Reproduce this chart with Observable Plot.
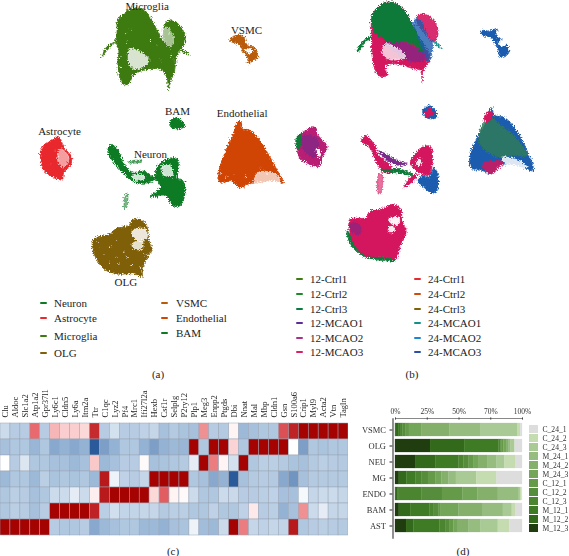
<!DOCTYPE html>
<html><head><meta charset="utf-8">
<script src="https://cdn.jsdelivr.net/npm/d3@7"></script>
<script src="https://cdn.jsdelivr.net/npm/@observablehq/plot@0.6"></script>
<style>
html,body{margin:0;padding:0;background:#fff;width:569px;height:556px;overflow:hidden;font-family:"Liberation Serif",serif;color:#222}
#page{position:relative;width:569px;height:556px}
#page svg{position:absolute;display:block}
.t{position:absolute;font-size:11px;line-height:12px;white-space:nowrap}
.k{position:absolute;height:1.6px;width:7px;border-radius:1px}
#scatter{filter:url(#rough)}
#heat,#bars,#swatches{filter:blur(.3px)}
</style></head><body>
<svg width="0" height="0" style="position:absolute"><filter id="rough" x="-2%" y="-2%" width="104%" height="104%" color-interpolation-filters="sRGB"><feTurbulence type="fractalNoise" baseFrequency=".75" numOctaves="2" seed="4" result="n"/><feDisplacementMap in="SourceGraphic" in2="n" scale="5.5" xChannelSelector="R" yChannelSelector="G"/><feGaussianBlur stdDeviation=".3"/></filter></svg>
<div id="page"></div>
<script>
// ---------- panel a/b: cluster outlines read from the embedding ----------
const microglia=[[350,65],[375,35],[405,22],[435,32],[455,60],[475,100],[488,120],[490,75],[510,58],[535,72],[552,100],[553,125],[530,165],[522,210],[510,245],[505,268],[500,235],[490,215],[475,205],[450,205],[420,212],[398,225],[385,250],[370,252],[358,230],[352,190],[355,150],[345,128],[322,147],[303,170],[318,140],[345,120],[350,90]];
const microgliaHole=[[388,145],[410,150],[445,175],[435,195],[400,205],[385,185]];
const microgliaGap=[[480,90],[500,80],[520,120],[510,140],[492,122]];
const microgliaTail=[[540,145],[552,150],[566,165],[550,155]];
const vsmc=[[688,120],[705,105],[730,108],[735,125],[742,135],[760,140],[772,170],[755,182],[745,190],[740,170],[725,150],[715,130],[695,125]];
const vsmcHole=[[735,145],[755,150],[750,158],[738,155]];
const bam=[[508,365],[520,352],[540,358],[552,378],[530,385],[512,380]];
const endothelial=[[655,510],[680,440],[700,395],[712,362],[722,365],[725,385],[745,388],[775,415],[800,455],[825,500],[848,548],[820,540],[780,545],[745,550],[720,562],[690,540],[660,545],[652,530]];
const endoGap=[[775,515],[825,520],[838,545],[760,543]];
const astrocyte=[[120,470],[125,440],[150,420],[175,410],[190,440],[213,470],[210,495],[190,515],[185,538],[160,530],[130,510]];
const astroGap=[[180,445],[205,470],[190,502],[172,480]];
const neuronArm=[[322,455],[330,432],[350,445],[370,490],[395,515],[430,512],[450,525],[470,530],[450,545],[405,545],[366,515],[336,480]];
const neuronBody=[[470,500],[495,478],[525,472],[535,500],[530,530],[550,545],[552,585],[540,615],[516,615],[495,585],[450,588],[480,560],[465,530]];
const neuronGap=[[486,495],[510,495],[516,525],[490,525]];
const neuronArmGap=[[395,525],[430,525],[432,535],[400,538]];
const neuronWisp=[[385,483],[425,480],[425,484],[385,487]];
const neuronStrand=[[376,578],[381,578],[378,622],[372,622]];
const olg=[[275,165],[280,145],[330,130],[345,115],[385,105],[395,90],[420,87],[440,110],[445,150],[455,175],[440,205],[425,235],[425,258],[400,250],[345,250],[310,235],[285,200]];
const olgGapA=[[395,120],[435,115],[440,140],[410,150],[400,140]];
const olgGapB=[[395,160],[425,150],[425,175],[400,175]];
const speckleA=[[375,100],[380,125],[450,120],[470,130],[360,170],[395,225],[390,85],[520,180],[360,200],[505,100],[512,165],[480,180],[165,450],[150,490],[175,470],[205,500],[780,500],[700,520],[680,530],[800,520],[660,520],[735,530]];
const speckleOlg=[[300,170],[330,170],[310,190],[350,200],[370,185],[355,220],[440,195],[380,200],[420,230],[430,190],[445,190],[350,150],[290,155],[325,215],[395,225]];
// panel b overlays
const bMicroBase=[[258,110],[262,40],[290,10],[320,5],[350,22],[375,60],[395,100],[420,140],[432,165],[425,190],[412,212],[410,245],[405,210],[385,205],[330,190],[300,195],[305,225],[280,225],[262,180]];
const bMicroGreen=[[262,40],[290,10],[320,5],[350,22],[375,60],[395,100],[420,145],[405,150],[380,130],[345,122],[310,125],[290,112],[268,100],[260,70]];
const bMicroPurple=[[300,122],[350,125],[405,150],[425,165],[400,185],[350,170]];
const bMicroLobe=[[395,45],[420,42],[445,60],[458,95],[445,125],[420,100],[395,70]];
const bMicroBlue=[[385,60],[405,60],[425,105],[440,125],[430,185],[405,130]];
const bMicroHole=[[300,130],[345,150],[360,170],[315,178],[290,160]];
const bMicroTailL=[[215,150],[235,120],[260,105],[260,110],[238,126],[218,155]];
const bMicroTailR=[[450,125],[470,145],[452,132]];
const bVsmc=[[588,90],[610,92],[635,85],[632,105],[650,118],[668,140],[668,160],[645,170],[635,140],[615,110],[590,105]];
const bVsmcHole=[[642,120],[660,125],[660,135],[645,135]];
const bBam=[[412,330],[430,315],[445,325],[455,350],[435,355],[418,350]];
const bBamPink=[[418,335],[435,325],[443,340],[430,352]];
const bEndo=[[552,480],[575,410],[600,370],[610,340],[618,322],[628,345],[655,350],[690,385],[720,440],[743,510],[710,500],[670,490],[640,495],[620,520],[590,510],[560,505]];
const bEndoGreen=[[585,385],[615,350],[640,370],[690,410],[725,465],[680,465],[640,470],[600,450],[580,420]];
const bEndoTop=[[598,345],[615,330],[622,345],[610,365],[597,360]];
const bEndoLow=[[590,490],[625,480],[655,485],[640,500],[620,520],[600,510]];
const bEndoHole=[[650,470],[700,480],[725,500],[680,500],[660,490]];
const bAstro=[[33,440],[35,410],[60,390],[90,378],[95,400],[125,440],[110,470],[100,498],[70,490],[45,475]];
const bAstroMid=[[50,410],[90,410],[100,440],[85,470],[55,450]];
const bAstroEdge=[[33,410],[45,405],[40,445],[34,440]];
const bAstroHole=[[92,445],[105,450],[100,470]];
const bNeuStrand=[[228,420],[240,405],[265,430],[280,465],[310,490],[320,515],[295,515],[275,490],[255,445]];
const bNeuMid=[[280,450],[335,480],[365,490],[340,495],[300,475]];
const bNeuGreen=[[290,510],[340,505],[385,525],[340,518]];
const bNeuBlob=[[375,480],[385,465],[410,440],[435,438],[440,490],[430,525],[410,520],[385,505]];
const bNeuTail=[[355,560],[375,530],[395,520],[385,540]];
const bNeuBlue=[[445,500],[458,530],[455,570],[440,578],[415,560],[398,545],[410,525],[430,530]];
const bNeuStick=[[280,520],[290,520],[285,580],[278,580]];
const bNeuHole=[[395,480],[405,475],[405,495],[395,495]];
const bOlg=[[190,105],[195,85],[240,82],[255,62],[290,55],[320,42],[345,55],[350,90],[362,125],[345,165],[330,205],[300,200],[245,195],[215,175]];
const bOlgEdge=[[185,120],[200,140],[225,175],[260,195],[330,205],[328,210],[260,205],[215,185],[190,150]];
const bOlgPurple=[[195,100],[220,100],[225,130],[200,125]];
const bOlgHoleA=[[310,85],[340,80],[340,100],[318,100]];
const bOlgHoleB=[[310,110],[325,110],[325,125],[310,125]];

// ---------- panel c ----------
const genes=["Clu","Aldoc","Slc1a2","Atp1a2","Gpr37l1","Ly6c1","Cldn5","Ly6a","Itm2a","Ttr","C1qc","Lyz2","Pf4","Mrc1","Ifi27l2a","Hexb","Csf1r","Selplg","P2ry12","Plp1","Meg3","Enpp2","Ptgds","Dbi","Nnat","Mal","Mbp","Cldn1","Gsn","S100a6","Crip1","Myl9","Acta2","Vtn","Tagln"];
const cellRows=["VSMC","OLG","NEU","MG","ENDO","BAM","AST"];
const heatVSMC=[-.6,-.9,-.9,1,-.9,.6,.45,.45,.35,1.5,-.9,-.5,-.9,-.9,-.8,-.7,-1.1,-.95,-1.05,-1.1,.8,-.9,-.95,.1,-1.2,-1.1,-1,-1,1.2,1.6,2,2,2,2,2];
const heatOLG=[-1.1,-1,-1,-1.25,-1,-1.4,-1.3,-1.4,-1.3,-2.2,-1.5,-1.3,-1,-1,-1.3,-1.5,-1.3,-1.2,-1.25,2,-1,2,2,.4,-1,2,2,2,2,0,-1.5,-1,-1.05,-1,-1];
const heatNEU=[0,-.9,-.4,-1,-1,-1.1,-1.1,-1.2,-1.1,.5,-1.2,-1.1,-.9,-.9,.05,-1.1,-1.05,-1,-.95,-.3,2,.9,.1,-.5,2,-1,-.85,-.85,-.95,-1.05,-1.1,-.95,-.85,-.9,-.95];
const heatMG=[-1.2,-1,-1,-1.2,-.85,-1.05,-1,-1.05,-1,-1.2,1.7,-.2,-.8,-.9,-.7,2,2,2,2,-1,-1.1,-1.4,-1.3,-2.2,-1.1,-.95,-.9,-.95,-1.4,-1.6,-1.1,-.95,-.95,-.95,-.95];
const heatENDO=[-1,-.85,-.9,-1.1,-1,-.6,-.6,-.3,-.6,.15,1.7,2,2,2,2,.35,1.1,.1,.05,-.6,-1,-1,-.6,-.65,-.9,-.9,-.85,-.8,-1.1,-1.1,-.1,-.7,-.6,-.6,-.7];
const heatBAM=[-1,-.85,-.9,-1.1,-.9,2,2,2,2,1.6,-.85,-.55,-.75,-.75,-.7,-.7,-.95,-.85,-.85,-1,-1,-.8,-1,-1,-.8,.2,-.9,-.85,-1.3,-1.1,.8,-.6,-.3,-.7,-.7];
const heatAST=[2,2,2,2,2,-.9,-1,-1,-.9,-1.4,-1.2,-1.1,-1,-1,-1.2,-1.2,-1.3,-1.1,-1.05,-.2,-1.15,-1.2,-.6,2,.9,-.7,-.8,-.7,-.75,1.7,-1,-.9,-.85,-.9,-.95];
const heatRows=[heatVSMC,heatOLG,heatNEU,heatMG,heatENDO,heatBAM,heatAST];

// ---------- panel d ----------
const samples=["M_12_3","M_12_2","M_12_1","C_12_3","C_12_2","C_12_1","M_24_3","M_24_2","M_24_1","C_24_3","C_24_2","C_24_1"];
const shareVSMC=[.5,2,1.5,2,2,3,10,22,24.5,29,2,1.5];
const shareOLG=[27.6,26.9,27.1,1.4,1,1.5,2,2,1.5,3,.3,5.7];
const shareNEU=[15.8,16.2,18,4,4,4,4,7,7,6,9,5];
const shareMG=[3,6,7,5,5,6,4.5,5.5,6,16,16,20];
const shareENDO=[.5,1.5,1,18,16,16,12,16,16.5,1,1,.5];
const shareBAM=[3,9,15,3,4,1.5,14.5,18.5,16.5,7,3,5];
const shareAST=[8.7,5.8,20.5,4.5,3.1,3.4,3.5,8.5,9,14,9,10];
const shareRows=[shareVSMC,shareOLG,shareNEU,shareMG,shareENDO,shareBAM,shareAST];
const sampleColors=["#1f3d0e","#33691a","#3f7a24","#4c8530","#568d3c","#659a49","#74a65a","#84b06c","#96bc80","#a9ca94","#c4dcb0","#dddddd"];
const pctTicks=[0,25,50,75,100], pctLabels=["0%","25%","50%","70%","100%"];

// colours
const cNeu="#0d7a24",cAst="#e8282c",cMg="#3d7a10",cOlg="#7f5f07",cVs="#b85c0c",cEn="#d04404";
const cMag="#d4165e",cBlue="#1c5cae",cPur="#7a2a8a",cGrn="#0e7a3a";

const page=document.getElementById("page");
const font={fontFamily:"Liberation Serif",background:"transparent"};
function put(el,l,t,id){el.style.left=l+"px";el.style.top=t+"px";if(id)el.id=id;page.appendChild(el);}
function note(s,l,t,c){const d=document.createElement("div");d.className="t";d.textContent=s;d.style.left=l+"px";d.style.top=(t-6)+"px";if(c)d.style.transform="translateX(-50%)";page.appendChild(d);}
function key(c,l,t){const d=document.createElement("div");d.className="k";d.style.left=l+"px";d.style.top=(t-.8)+"px";d.style.background=c;page.appendChild(d);}

// layers: [points, dx, dy, colour, opacity]  (3x units of the embedding)
const bx=855, lowY=570;
const layers=[
 [microglia,0,0,cMg,1],[microgliaTail,0,0,cMg,1],[microgliaHole,0,0,"#fff",.8],[microgliaGap,0,0,"#fff",.55],
 [vsmc,0,0,cVs,1],[vsmcHole,0,0,"#fff",1],
 [bam,0,0,cNeu,1],
 [endothelial,0,0,cEn,1],[endoGap,0,0,"#fff",.7],
 [astrocyte,0,0,cAst,1],[astroGap,0,0,"#fff",.55],
 [neuronArm,0,0,cNeu,1],[neuronBody,0,0,cNeu,1],[neuronGap,0,0,"#fff",.8],[neuronArmGap,0,0,"#fff",.8],[neuronWisp,0,0,cNeu,.7],[neuronStrand,0,0,cNeu,.55],
 [olg,0,lowY,cOlg,1],[olgGapA,0,lowY,"#fff",.85],[olgGapB,0,lowY,"#fff",.8],
 // panel b
 [bMicroBase,bx,0,cMag,1],[bMicroPurple,bx,0,cPur,.7],[bMicroGreen,bx,0,cGrn,1],[bMicroLobe,bx,0,cMag,.9],[bMicroBlue,bx,0,cBlue,.8],[bMicroHole,bx,0,"#fff",.75],[bMicroTailL,bx,0,cGrn,1],[bMicroTailR,bx,0,"#12908c",1],
 [bVsmc,bx,0,cBlue,1],[bVsmcHole,bx,0,"#fff",1],
 [bBam,bx,0,cBlue,1],[bBamPink,bx,0,cMag,1],
 [bEndo,bx,0,cBlue,1],[bEndoGreen,bx,0,"#2e7a5a",.85],[bEndoTop,bx,0,cMag,1],[bEndoLow,bx,0,cMag,.85],[bEndoHole,bx,0,"#fff",.85],
 [bAstro,bx,0,"#b81f74",1],[bAstroMid,bx,0,cPur,.7],[bAstroEdge,bx,0,cGrn,1],[bAstroHole,bx,0,"#fff",1],
 [bNeuStrand,bx,0,cMag,1],[bNeuMid,bx,0,cPur,1],[bNeuGreen,bx,0,cGrn,1],[bNeuBlob,bx,0,cMag,1],[bNeuTail,bx,0,cMag,1],[bNeuBlue,bx,0,cBlue,1],[bNeuStick,bx,0,cMag,.6],[bNeuHole,bx,0,"#fff",.9],
 [bOlgEdge,bx,lowY,cGrn,1],[bOlg,bx,lowY,cMag,1],[bOlgPurple,bx,lowY,cPur,.6],[bOlgHoleA,bx,lowY,"#fff",.95],[bOlgHoleB,bx,lowY,"#fff",.9]
];
const clusterLabels=[["Microglia",440,17],["VSMC",738,90],["BAM",531,334],["Endothelial",725,338],["Astrocyte",177,392],["Neuron",450,463],["OLG",376,846]];

const scatter=Plot.plot({width:569,height:385,margin:0,style:font,
 x:{domain:[0,569*3],axis:null},y:{domain:[385*3,0],axis:null},
 marks:[
  ...layers.map(([pts,dx,dy,c,o])=>Plot.line(pts,{x:d=>d[0]+dx,y:d=>d[1]+dy,curve:"catmull-rom-closed",fill:c,fillOpacity:o,stroke:c,strokeOpacity:o,strokeWidth:.8})),
  Plot.dot(speckleA,{x:"0",y:"1",r:.7,fill:"#fff"}),
  Plot.dot(speckleOlg,{x:"0",y:d=>d[1]+lowY,r:.7,fill:"#fff"})
 ]});
put(scatter,0,0,"scatter");
const labelsPlot=Plot.plot({width:569,height:385,margin:0,style:font,
 x:{domain:[0,569*3],axis:null},y:{domain:[385*3,0],axis:null},
 marks:[Plot.text(clusterLabels,{x:"1",y:"2",text:"0",fontSize:11,fill:"#1c1c1c",fontFamily:"Liberation Serif"})]});
put(labelsPlot,0,0);

// legends a, b
[["Neuron",cNeu,303],["Astrocyte",cAst,318],["Microglia",cMg,336],["OLG",cOlg,353]].forEach(([s,c,y])=>{key(c,40,y);note(s,54,y);});
[["VSMC",cVs,303],["Endothelial",cEn,318],["BAM",cNeu,333]].forEach(([s,c,y])=>{key(c,161,y);note(s,176,y);});
[["12-Ctrl1","#3d7a10",279],["12-Ctrl2","#1d8a2a",294],["12-Ctrl3","#0a7a40",309],["12-MCAO1","#5b2d9a",323],["12-MCAO2","#a8308c",338],["12-MCAO3","#dc1e62",352]].forEach(([s,c,y])=>{key(c,296,y);note(s,310,y);});
[["24-Ctrl1","#e8282c",279],["24-Ctrl2","#d04a0c",294],["24-Ctrl3","#7f5f07",309],["24-MCAO1","#12908c",323],["24-MCAO2","#1a86d8",338],["24-MCAO3","#2a4fa8",352]].forEach(([s,c,y])=>{key(c,414,y);note(s,428,y);});
note("(a)",158,374,true);note("(b)",412,374,true);note("(c)",173,551,true);note("(d)",463,551,true);

// heatmap
const heatData=heatRows.flatMap((r,i)=>r.map((v,j)=>({gene:genes[j],row:cellRows[i],v})));
const heat=Plot.plot({width:348,height:152,marginTop:36,marginBottom:0,marginLeft:0,marginRight:0,style:{...font,fontSize:"8.5px"},
 x:{domain:genes,padding:0,label:null,axis:null},y:{domain:cellRows,padding:0,axis:null},
 color:{type:"linear",domain:[-2.2,-1.3,-1,-.5,0,.5,1,1.5,2],range:["#2a5a9a","#94b2d4","#b0c7e0","#d3e0ee","#ffffff","#f9c9c9","#e86a6e","#c52a2c","#a50202"]},
 marks:[
  Plot.cell(heatData,{x:"gene",y:"row",fill:"v",stroke:"#98a4b5",strokeWidth:.5,inset:0}),
  Plot.axisX({anchor:"top",label:null,tickSize:0,tickPadding:4,tickRotate:-90,fill:"#222"})
 ]});
put(heat,0,385,"heat");

// stacked bars
const barData=shareRows.flatMap((r,i)=>r.map((v,j)=>({row:cellRows[i],sample:samples[j],v})));
const bars=Plot.plot({width:192,height:140,marginTop:13.5,marginBottom:7.5,marginLeft:55,marginRight:10,style:{...font,fontSize:"8.5px"},
 x:{domain:[0,100],label:null},y:{domain:cellRows,padding:.18,label:null},
 color:{domain:samples,range:sampleColors},
 marks:[
  Plot.barX(barData,{x:"v",y:"row",fill:"sample",stroke:"sample",strokeWidth:.25}),
  Plot.axisX({anchor:"top",ticks:pctTicks,tickFormat:(d,i)=>pctLabels[i],tickSize:2,tickPadding:3,label:null,fontSize:7.5,fill:"#333"}),
  Plot.axisY({anchor:"left",tickSize:3,tickPadding:4,label:null,dx:-2.5,fill:"#333"}),
  Plot.frame({anchor:"left",dx:-2.5,stroke:"#555",strokeWidth:1.3}),
  Plot.frame({anchor:"top",dy:-.5,stroke:"#555",strokeWidth:.7})
 ]});
put(bars,340,405,"bars");

// sample legend
const legendOrder=samples.slice().reverse();
const swatches=Plot.plot({width:44,height:118,marginTop:2,marginBottom:0,marginLeft:4,marginRight:31,style:{...font,fontSize:"7.6px"},
 x:{axis:null,domain:["k"],padding:0},y:{domain:legendOrder,padding:.07,axis:null},
 color:{domain:samples,range:sampleColors},
 marks:[
  Plot.cell(legendOrder,{x:()=>"k",y:d=>d,fill:d=>d}),
  Plot.axisY({anchor:"right",tickSize:0,tickPadding:4,label:null,fill:"#333"})
 ]});
put(swatches,525,419,"swatches");
</script></body></html>
